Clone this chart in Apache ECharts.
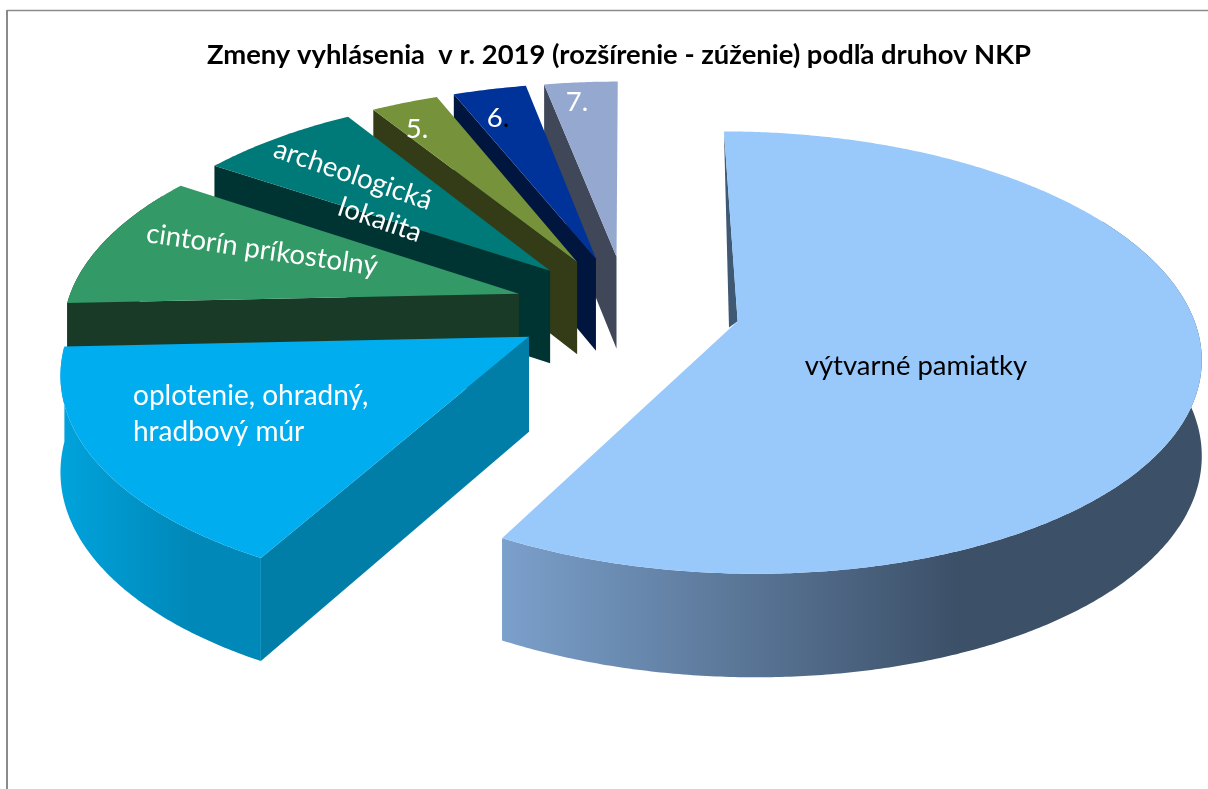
<!DOCTYPE html>
<html>
<head>
    <meta charset="utf-8">
    <title>Zmeny vyhlásenia</title>
    <script src="https://cdn.jsdelivr.net/npm/echarts@6/dist/echarts.min.js"></script>
    <style>
        html, body { margin: 0; padding: 0; background: #fff; }
        #main { width: 1208px; height: 789px; }
    </style>
</head>
<body>
<div id="main"></div>
<script>
    // hodnoty odcitane z obrazku (podiel v %)
    var categories = ['výtvarné pamiatky', 'oplotenie, ohradný,\nhradbový múr', 'cintorín príkostolný', 'archeologická\nlokalita', '5.', '6.', '7.'];
    var values = [58.0, 16.3, 10.1, 6.7, 2.8, 3.05, 3.05];

    var topColors = ['#99C8FA', '#00ADEF', '#339966', '#007A78', '#76933C', '#003399', '#95A9D0'];
    var wallColors = ['#3F5874', '#007EA8', '#193A27', '#003433', '#333C17', '#00163F', '#3F4759'];
    var sideLeftColors = ['#7BA0CB', '#00A3DC', '#193A27', '#003433', '#333C17', '#00163F', '#3F4759'];
    var sideRightColors = ['#3C5068', '#0088B8', '#193A27', '#003433', '#333C17', '#00163F', '#3F4759'];
    var labelColors = ['#000', '#fff', '#fff', '#fff', '#fff', '#fff', '#fff'];
    // stred kazdeho riadku popisku a natocenie
    var labelPos = [[[916, 366]], [[133, 396], [133, 432]], [[262, 250]], [[353, 175], [380, 220]], [[417, 129]], [[498, 118]], [[577, 102]]];
    var labelRot = [0, 0, -0.145, -0.33, 0, 0, 0];
    var labelSize = [27.5, 28, 27.5, 27.5, 27.5, 27.5, 27.5];

    var pie = { cx: 627, cy: 308, a: 453, b: 213, persp: 0.14, depth: 94, explode: 0.25, start: 0 };

    function project(u, v, z) {
        var s = 1 / (1 - pie.persp * v);
        return [pie.cx + pie.a * u * s, pie.cy + pie.b * v * s + z * pie.depth * Math.pow(s, 0.6)];
    }

    var total = 0;
    for (var i = 0; i < values.length; i++) { total += values[i]; }
    var angles = [];
    var acc = pie.start;
    for (var i = 0; i < values.length; i++) {
        var span = values[i] / total * 360;
        angles.push([acc, acc + span]);
        acc += span;
    }

    function renderSlice(params, api) {
        var idx = api.value(0);
        var a0 = angles[idx][0], a1 = angles[idx][1];
        var r0 = a0 * Math.PI / 180;
        var mid = (a0 + a1) / 2 * Math.PI / 180;
        var ou = pie.explode * Math.sin(mid);
        var ov = -pie.explode * Math.cos(mid);
        var arcTop = [], sideTop = [], sideBottom = [];
        var steps = Math.ceil(a1 - a0) * 2;
        for (var k = 0; k <= steps; k++) {
            var t = (a0 + (a1 - a0) * k / steps) * Math.PI / 180;
            arcTop.push(project(ou + Math.sin(t), ov - Math.cos(t), 0));
            // zadna cast plasta nie je vidno
            if (Math.cos(t) < 0.5) {
                sideTop.push(project(ou + Math.sin(t), ov - Math.cos(t), 0));
                sideBottom.push(project(ou + Math.sin(t), ov - Math.cos(t), 1));
            }
        }
        var apexTop = project(ou, ov, 0);
        var apexBottom = project(ou, ov, 1);
        var children = [];
        // stena na zaciatku vysece, pri velkej vyseci sa k okraju zuzuje
        if (idx === 0) {
            children.push({
                type: 'polygon', silent: true,
                shape: { points: [apexTop, arcTop[0], project(ou + 0.6 * Math.sin(r0), ov - 0.6 * Math.cos(r0), 1.4)] },
                style: { fill: wallColors[idx] }
            });
        } else {
            children.push({
                type: 'polygon', silent: true,
                shape: { points: [apexTop, arcTop[0], project(ou + Math.sin(r0), ov - Math.cos(r0), 1), apexBottom] },
                style: { fill: wallColors[idx] }
            });
        }
        if (sideTop.length > 1) {
            children.push({
                type: 'polygon', silent: true,
                shape: { points: sideTop.concat(sideBottom.slice().reverse()) },
                style: {
                    fill: {
                        type: 'linear', x: 0, y: 0, x2: 1, y2: 0,
                        colorStops: [
                            { offset: 0, color: sideLeftColors[idx] },
                            { offset: 0.65, color: sideRightColors[idx] },
                            { offset: 1, color: sideRightColors[idx] }
                        ]
                    }
                }
            });
        }
        children.push({ type: 'polygon', silent: true, shape: { points: [apexTop].concat(arcTop) }, style: { fill: topColors[idx] } });

        var lines = categories[idx].split('\n');
        for (var n = 0; n < lines.length; n++) {
            var labelStyle = {
                text: lines[n],
                fontFamily: 'Lato',
                fontSize: labelSize[idx],
                fill: labelColors[idx],
                align: idx === 1 ? 'left' : 'center',
                verticalAlign: 'middle'
            };
            if (lines[n] === '6.') {
                labelStyle.text = '{n|6}{d|.}';
                labelStyle.rich = {
                    n: { fill: '#fff', fontFamily: 'Lato', fontSize: labelSize[idx] },
                    d: { fill: '#000', fontFamily: 'Lato', fontSize: labelSize[idx] }
                };
            }
            children.push({
                type: 'text', silent: true, z2: 100,
                x: labelPos[idx][n][0], y: labelPos[idx][n][1], rotation: labelRot[idx],
                style: labelStyle
            });
        }
        return { type: 'group', children: children };
    }

    // kreslime odzadu dopredu
    var seriesData = [];
    for (var i = values.length - 1; i >= 0; i--) {
        seriesData.push([i, values[i]]);
    }

    var myChart = echarts.init(document.getElementById('main'), null, { renderer: 'canvas' });
    myChart.setOption({
        animation: false,
        title: {
            text: 'Zmeny vyhlásenia  v r. 2019 (rozšírenie - zúženie) podľa druhov NKP',
            left: 202,
            top: 37,
            textStyle: { fontFamily: 'Lato', fontWeight: 'bold', fontSize: 27.4, color: '#000' }
        },
        graphic: [
            { type: 'line', silent: true, shape: { x1: 7, y1: 10.5, x2: 1208, y2: 10.5 }, style: { stroke: '#8a8a8a', lineWidth: 1.5 } },
            { type: 'line', silent: true, shape: { x1: 7, y1: 10, x2: 7, y2: 789 }, style: { stroke: '#8a8a8a', lineWidth: 2 } }
        ],
        series: [{
            type: 'custom',
            coordinateSystem: 'none',
            renderItem: renderSlice,
            data: seriesData
        }]
    });
</script>
</body>
</html>
